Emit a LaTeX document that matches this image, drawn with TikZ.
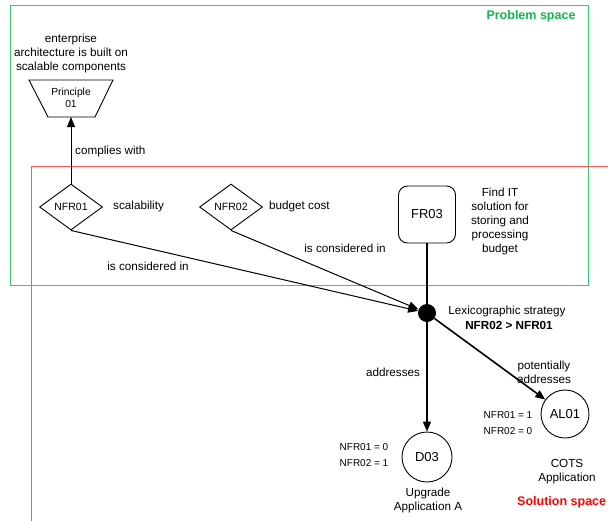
\documentclass[tikz,border=0pt]{standalone}
\usepackage{fontspec}
\setmainfont{Liberation Sans}
\usetikzlibrary{shapes.geometric,arrows.meta}
\definecolor{probgreen}{RGB}{60,200,110}
\definecolor{probtext}{RGB}{20,180,80}
\definecolor{solred}{RGB}{255,90,90}
\definecolor{soltext}{RGB}{255,0,0}
\tikzset{
  lbl/.style={font=\fontsize{11.7}{14}\selectfont, align=center, inner sep=0pt},
  small/.style={font=\fontsize{10}{16}\selectfont, align=left, inner sep=0pt},
  nfr/.style={draw, diamond, minimum width=63pt, minimum height=46pt, inner sep=0pt, line width=0.9pt, font=\fontsize{10.5}{12}\selectfont},
  big/.style={font=\fontsize{13}{15}\selectfont},
  conn/.style={line width=1pt},
  thick conn/.style={line width=1.6pt},
  tip/.style={-{Triangle[length=10pt,width=8pt]}},
}
\begin{document}
\begin{tikzpicture}[x=1pt,y=-1pt]
\useasboundingbox (0,0) rectangle (608,520);
\fill[white] (0,0) rectangle (608,520);
% regions
\draw[probgreen, line width=1pt] (10,5) rectangle (588,285);
\draw[solred, line width=1pt] (31,166) rectangle (660,560);
\node[font=\fontsize{12.5}{14}\bfseries, text=probtext, inner sep=0pt] (ps) at (531,16) {Problem space};
\node[font=\fontsize{12.5}{14}\bfseries, text=soltext, inner sep=0pt, anchor=west] (ss) at (517,502) {Solution space};

% principle
\node[lbl] (plabel) at (71,53) {enterprise\\architecture is built on\\scalable components};
\draw[line width=0.9pt, line join=miter] (29,80) -- (113,80) -- (95,117) -- (48,117) -- cycle;
\node[align=center, inner sep=0pt, font=\fontsize{10.3}{12}\selectfont] (p01) at (71,97.5) {Principle\\01};
\coordinate (pbot) at (71,117);

% NFRs
\node[nfr] (n1) at (71,207) {NFR01};
\node[nfr] (n2) at (231,207) {NFR02};
\node[lbl, anchor=west] (n1t) at (113,206) {scalability};
\node[lbl, anchor=west] (n2t) at (269,206) {budget cost};

% FR03
\node[draw, rounded corners=9pt, minimum width=57pt, minimum height=57pt, line width=0.9pt, big] (fr) at (427,214.5) {FR03};
\node[lbl] (frt) at (500,221) {Find IT\\solution for\\storing and\\processing\\budget};

% junction
\node[circle, fill=black, minimum size=18pt, inner sep=0pt] (dot) at (427,313) {};
\node[lbl] (lex) at (507,311) {Lexicographic strategy};
\node[lbl, font=\fontsize{11.7}{14}\bfseries] (lexr) at (509,325) {NFR02 > NFR01};

% alternatives
\node[draw, circle, minimum size=50pt, inner sep=0pt, line width=0.9pt, big] (d03) at (427,457) {D03};
\node[draw, circle, minimum size=48pt, inner sep=0pt, line width=0.9pt, big] (al) at (565,414) {AL01};
\node[small] (d03v) at (364,455) {NFR01 = 0\\NFR02 = 1};
\node[small] (alv) at (508,423) {NFR01 = 1\\NFR02 = 0};
\node[lbl] (d03t) at (428,500) {Upgrade\\Application A};
\node[lbl] (alt) at (567,472) {COTS\\Application};

% connectors
\draw[conn, tip] (n1.north) -- (pbot);
\node[lbl, anchor=west] (cw) at (75,151) {complies with};
\draw[conn, tip] (n1.south) -- (dot);
\draw[conn, tip] (n2.south) -- (dot);
\node[lbl] (ci1) at (148,266) {is considered in};
\node[lbl] (ci2) at (345,248) {is considered in};
\draw[thick conn] (fr.south) -- (dot);
\draw[thick conn, tip] (dot) -- (d03);
\draw[thick conn, tip] (dot) -- (al);
\node[lbl] (adr) at (393,372) {addresses};
\node[lbl] (padr) at (544,372) {potentially\\addresses};
\end{tikzpicture}
\end{document}
